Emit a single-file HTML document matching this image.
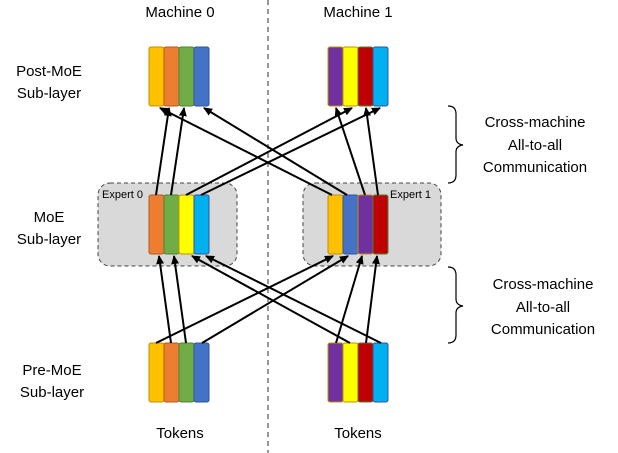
<!DOCTYPE html>
<html><head><style>body{margin:0;background:#fff}svg{display:block}text{font-family:"Liberation Sans",sans-serif;fill:#000}</style></head><body>
<svg width="618" height="453" viewBox="0 0 618 453" xmlns="http://www.w3.org/2000/svg">
<defs><marker id="a" markerWidth="10" markerHeight="10" refX="8" refY="4" orient="auto" markerUnits="userSpaceOnUse"><path d="M0,0 L9,4 L0,8 z" fill="#000"/></marker></defs>
<line x1="268" y1="0" x2="268" y2="453" stroke="#777" stroke-width="1.5" stroke-dasharray="5,4"/>
<text x="180" y="17" font-size="15" text-anchor="middle">Machine 0</text>
<text x="358" y="17" font-size="15" text-anchor="middle">Machine 1</text>
<g font-size="15" text-anchor="middle">
<text x="49" y="76">Post-MoE</text><text x="49" y="98">Sub-layer</text>
<text x="49" y="222">MoE</text><text x="49" y="244">Sub-layer</text>
<text x="52" y="375">Pre-MoE</text><text x="52" y="397">Sub-layer</text>
<text x="180" y="438">Tokens</text><text x="358" y="438">Tokens</text>
<text x="535" y="127">Cross-machine</text><text x="535" y="150">All-to-all</text><text x="535" y="172">Communication</text>
<text x="543" y="289">Cross-machine</text><text x="543" y="312">All-to-all</text><text x="543" y="334">Communication</text>
</g>
<path d="M448,106 Q456,106 456,114 L456,138 Q456,144 463,145 Q456,146 456,152 L456,175 Q456,183 448,183" fill="none" stroke="#000" stroke-width="1.2"/>
<path d="M448,267 Q456,267 456,275 L456,299 Q456,305 463,306 Q456,307 456,313 L456,335 Q456,343 448,343" fill="none" stroke="#000" stroke-width="1.2"/>
<rect x="98" y="183" width="139" height="83" rx="12" fill="#d9d9d9" stroke="#444" stroke-dasharray="4,3"/>
<rect x="303" y="183" width="138" height="83" rx="12" fill="#d9d9d9" stroke="#444" stroke-dasharray="4,3"/>
<text x="102" y="198" font-size="11">Expert 0</text>
<text x="390" y="198" font-size="11">Expert 1</text>
<g stroke-width="1" >
<rect x="149" y="47" width="15" height="59" rx="2" fill="#ffc000" stroke="#c09000"/>
<rect x="164" y="47" width="15" height="59" rx="2" fill="#ed7d31" stroke="#b05a20"/>
<rect x="179" y="47" width="15" height="59" rx="2" fill="#70ad47" stroke="#508030"/>
<rect x="194" y="47" width="15" height="59" rx="2" fill="#4472c4" stroke="#2f5597"/>
<rect x="328" y="47" width="15" height="59" rx="2" fill="#7030a0" stroke="#c09000"/>
<rect x="343" y="47" width="15" height="59" rx="2" fill="#ffff00" stroke="#c09000"/>
<rect x="358" y="47" width="15" height="59" rx="2" fill="#c00000" stroke="#508030"/>
<rect x="373" y="47" width="15" height="59" rx="2" fill="#00b0f0" stroke="#2f5597"/>
<rect x="149" y="195" width="15" height="59" rx="2" fill="#ed7d31" stroke="#b05a20"/>
<rect x="164" y="195" width="15" height="59" rx="2" fill="#70ad47" stroke="#508030"/>
<rect x="179" y="195" width="15" height="59" rx="2" fill="#ffff00" stroke="#c09000"/>
<rect x="194" y="195" width="15" height="59" rx="2" fill="#00b0f0" stroke="#2f5597"/>
<rect x="328" y="195" width="15" height="59" rx="2" fill="#ffc000" stroke="#c09000"/>
<rect x="343" y="195" width="15" height="59" rx="2" fill="#4472c4" stroke="#2f5597"/>
<rect x="358" y="195" width="15" height="59" rx="2" fill="#7030a0" stroke="#c09000"/>
<rect x="373" y="195" width="15" height="59" rx="2" fill="#c00000" stroke="#508030"/>
<rect x="149" y="343" width="15" height="59" rx="2" fill="#ffc000" stroke="#c09000"/>
<rect x="164" y="343" width="15" height="59" rx="2" fill="#ed7d31" stroke="#b05a20"/>
<rect x="179" y="343" width="15" height="59" rx="2" fill="#70ad47" stroke="#508030"/>
<rect x="194" y="343" width="15" height="59" rx="2" fill="#4472c4" stroke="#2f5597"/>
<rect x="328" y="343" width="15" height="59" rx="2" fill="#7030a0" stroke="#c09000"/>
<rect x="343" y="343" width="15" height="59" rx="2" fill="#ffff00" stroke="#c09000"/>
<rect x="358" y="343" width="15" height="59" rx="2" fill="#c00000" stroke="#508030"/>
<rect x="373" y="343" width="15" height="59" rx="2" fill="#00b0f0" stroke="#2f5597"/>
</g>
<g stroke="#000" stroke-width="2" marker-end="url(#a)">
<line x1="171" y1="343" x2="159" y2="256"/>
<line x1="186" y1="343" x2="174" y2="256"/>
<line x1="156" y1="343" x2="333" y2="256"/>
<line x1="202" y1="343" x2="348" y2="256"/>
<line x1="336" y1="343" x2="362" y2="256"/>
<line x1="350" y1="343" x2="192" y2="256"/>
<line x1="366" y1="343" x2="377" y2="256"/>
<line x1="381" y1="343" x2="206" y2="256"/>
<line x1="156" y1="195" x2="169" y2="108"/>
<line x1="171" y1="195" x2="184" y2="108"/>
<line x1="332" y1="195" x2="160" y2="108"/>
<line x1="347" y1="195" x2="204" y2="108"/>
<line x1="365" y1="195" x2="336" y2="108"/>
<line x1="378" y1="195" x2="366" y2="108"/>
<line x1="186" y1="195" x2="352" y2="108"/>
<line x1="201" y1="195" x2="380" y2="108"/>
</g>
</svg>
</body></html>
